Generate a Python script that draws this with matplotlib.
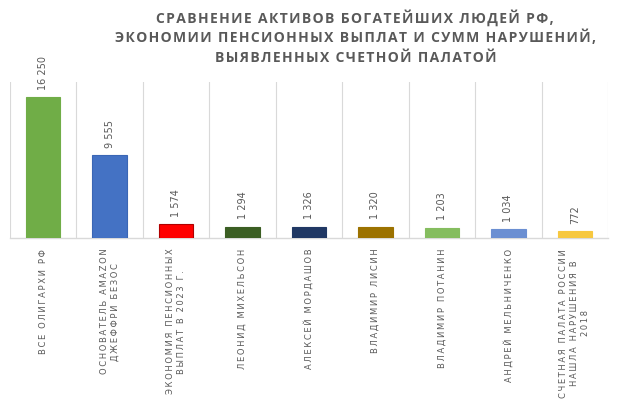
"""Bar chart: assets of the richest Russians vs pension savings and audit findings."""

import matplotlib

matplotlib.use("Agg")
import matplotlib.pyplot as plt

_TEXT = "#595959"
_GRID = "#d9d9d9"

categories = [
    "ВСЕ ОЛИГАРХИ РФ",
    "ОСНОВАТЕЛЬ AMAZON\nДЖЕФФРИ БЕЗОС",
    "ЭКОНОМИЯ ПЕНСИОННЫХ\nВЫПЛАТ В 2023 Г.",
    "ЛЕОНИД МИХЕЛЬСОН",
    "АЛЕКСЕЙ МОРДАШОВ",
    "ВЛАДИМИР ЛИСИН",
    "ВЛАДИМИР ПОТАНИН",
    "АНДРЕЙ МЕЛЬНИЧЕНКО",
    "СЧЕТНАЯ ПАЛАТА РОССИИ\nНАШЛА НАРУШЕНИЯ В\n2018",
]
values = [16250, 9555, 1574, 1294, 1326, 1320, 1203, 1034, 772]
bar_colors = [
    "#70ad47", "#4472c4", "#ff0000", "#3b5e23", "#203864",
    "#9c7200", "#85bd5f", "#6b8fd2", "#f7c840",
]
edge_colors = [
    "#70ad47", "#3a66b5", "#b00000", "#3b5e23", "#203864",
    "#9c7200", "#85bd5f", "#6b8fd2", "#f7c840",
]

title_lines = [
    "СРАВНЕНИЕ АКТИВОВ БОГАТЕЙШИХ ЛЮДЕЙ РФ,",
    "ЭКОНОМИИ ПЕНСИОННЫХ ВЫПЛАТ И СУММ НАРУШЕНИЙ,",
    "ВЫЯВЛЕННЫХ СЧЕТНОЙ ПАЛАТОЙ",
]


def fmt(v):
    return f"{v:,}".replace(",", " ")


def spaced(text, gap="\u2009"):
    # poor man's letter spacing
    return "\n".join(gap.join(line) for line in text.split("\n"))


fig = plt.figure(figsize=(6.2, 4.1), dpi=100)
fig.patch.set_facecolor("white")
ax = fig.add_axes([10 / 620, 1 - 239 / 410, 598 / 620, 156 / 410])

x = list(range(len(values)))
ax.bar(x, values, width=0.52, color=bar_colors, edgecolor=edge_colors,
       linewidth=0.8, zorder=3)

for xi, v in zip(x, values):
    ax.annotate(fmt(v), (xi, v), xytext=(0, 6),
                textcoords="offset points", rotation=90, ha="center",
                va="bottom", fontsize=7, color=_TEXT, family="DejaVu Sans")

for b in range(len(values) + 1):
    ax.axvline(b - 0.5, color=_GRID, linewidth=0.8, zorder=1)

ax.set_xlim(-0.5, len(values) - 0.5)
ax.set_ylim(0, 18000)
ax.set_yticks([])
ax.set_xticks(x)
ax.set_xticklabels([spaced(c) for c in categories], rotation=90, ha="center",
                   va="top", multialignment="center", fontsize=6.0,
                   color=_TEXT, family="DejaVu Sans", linespacing=1.3)
ax.tick_params(axis="x", length=0, pad=7)
for side in ("top", "left", "right"):
    ax.spines[side].set_visible(False)
ax.spines["bottom"].set_color(_GRID)
ax.spines["bottom"].set_linewidth(1.0)

# title drawn line by line so the pitch matches the original
for i, line in enumerate(title_lines):
    fig.text(0.573, 1 - (23 + 19.5 * i) / 410, spaced(line, "\u200a"),
             ha="center", va="baseline", fontsize=10, fontweight="bold",
             color=_TEXT, family=["Open Sans", "DejaVu Sans"])

fig.savefig("out.png", dpi=100, facecolor="white")
